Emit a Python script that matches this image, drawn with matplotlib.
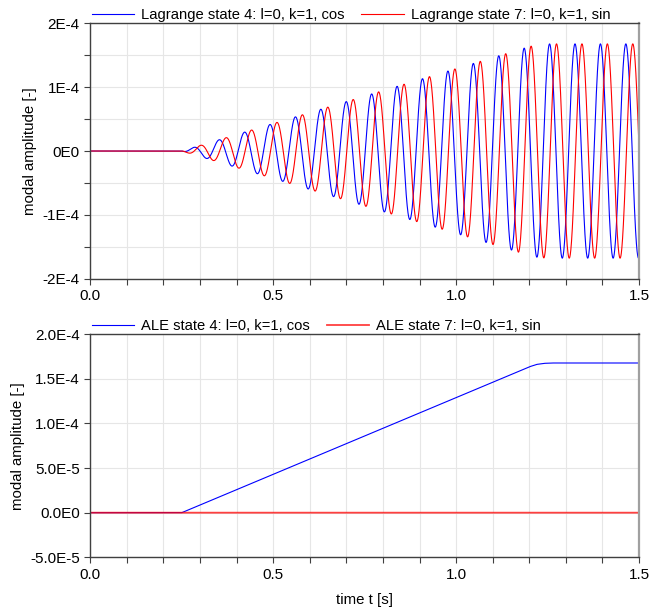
import numpy as np
import matplotlib
matplotlib.use("Agg")
import matplotlib.pyplot as plt
from matplotlib.ticker import MultipleLocator, FixedLocator

plt.rcParams['font.family'] = ['Liberation Sans', 'DejaVu Sans']

# ---- data ----
# amplitude envelope (ALE state 4) breakpoints
env_t = [0.0, 0.25, 1.20, 1.22, 1.24, 1.26, 1.50]
env_amp = [0.0, 0.0, 1.635e-4, 1.662e-4, 1.674e-4, 1.678e-4, 1.678e-4]
# oscillation of the Lagrange states
osc_period = 0.0695          # s
cos_peak_time = 1.464        # s, a peak of the cos state
sin_peak_time = 1.483        # s, a peak of the sin state
ale_sin_value = 0.0

top_yticks = [-2e-4, -1e-4, 0.0, 1e-4, 2e-4]
top_ylabels = ["-2E-4", "-1E-4", "0E0", "1E-4", "2E-4"]
bot_yticks = [-5e-5, 0.0, 5e-5, 1e-4, 1.5e-4, 2e-4]
bot_ylabels = ["-5.0E-5", "0.0E0", "5.0E-5", "1.0E-4", "1.5E-4", "2.0E-4"]
xticks = [0.0, 0.5, 1.0, 1.5]
xlabels = ["0.0", "0.5", "1.0", "1.5"]

labels_top = ["Lagrange state 4: l=0, k=1, cos", "Lagrange state 7: l=0, k=1, sin"]
labels_bot = ["ALE state 4: l=0, k=1, cos", "ALE state 7: l=0, k=1, sin"]

t = np.linspace(0.0, 1.5, 4001)
amp = np.interp(t, env_t, env_amp)
w = 2 * np.pi / osc_period
lag_cos = amp * np.cos(w * (t - cos_peak_time))
lag_sin = amp * np.cos(w * (t - sin_peak_time))
ale_sin = np.full_like(t, ale_sin_value)

BLUE = "#0000ff"
RED = "#ff0000"
GRID = "#e6e6e6"
SPINE = "#404040"

fig = plt.figure(figsize=(6.49, 6.12), dpi=100)
ax1 = fig.add_axes([0.1391, 0.5446, 0.8455, 0.4173])
ax2 = fig.add_axes([0.1391, 0.0894, 0.8455, 0.3644])

def style(ax, yticks, ylabels, ylim):
    ax.set_xlim(0, 1.5)
    ax.set_ylim(*ylim)
    ax.xaxis.set_major_locator(FixedLocator(xticks))
    ax.set_xticklabels(xlabels)
    ax.xaxis.set_minor_locator(MultipleLocator(0.1))
    ax.yaxis.set_major_locator(FixedLocator(yticks))
    ax.set_yticklabels(ylabels)
    ax.grid(True, which='both', color=GRID, linewidth=0.8)
    ax.set_axisbelow(True)
    ax.tick_params(which='both', direction='out', length=4, width=0.8,
                   colors=SPINE, labelcolor='black', labelsize=11)
    for s in ['left', 'bottom', 'top']:
        ax.spines[s].set_color(SPINE)
        ax.spines[s].set_linewidth(1.0)
    ax.spines['right'].set_color('#a0a0a0')
    ax.spines['right'].set_linewidth(1.6)
    ax.set_ylabel("modal amplitude [-]", fontsize=10.8)

ax1.plot(t, lag_cos, color=BLUE, lw=0.8, label=labels_top[0])
ax1.plot(t, lag_sin, color=RED, lw=0.8, label=labels_top[1])
style(ax1, top_yticks, top_ylabels, (-2e-4, 2e-4))
ax1.yaxis.set_minor_locator(MultipleLocator(5e-5))

ax2.plot(t, amp, color=BLUE, lw=0.8, label=labels_bot[0])
ax2.plot(t, ale_sin, color=RED, lw=1.3, alpha=0.75, label=labels_bot[1])
style(ax2, bot_yticks, bot_ylabels, (-5e-5, 2e-4))
ax2.set_xlabel("time t [s]", fontsize=10.8, labelpad=8)

for ax in (ax1, ax2):
    ax.legend(loc='lower left', bbox_to_anchor=(0.0, 1.0), ncol=2, frameon=False,
              fontsize=10.6, borderaxespad=0.0, borderpad=0.1, handlelength=2.9,
              handletextpad=0.45, columnspacing=1.15)

fig.savefig("out.png", dpi=100)
